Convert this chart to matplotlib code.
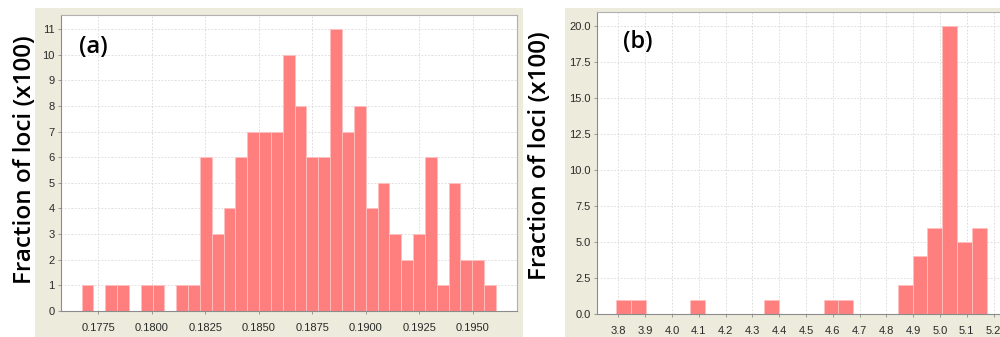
import numpy as np
import matplotlib
matplotlib.use("Agg")
import matplotlib.pyplot as plt
from matplotlib.patches import Rectangle
from matplotlib.ticker import FormatStrFormatter

# ---------------- data ----------------
# panel (a): histogram bins (left edge of first bin, bin width) and counts (x100)
a_bin_start = 0.17672
a_bin_width = 0.000553
a_counts = [1, 0, 1, 1, 0, 1, 1, 0, 1, 1, 6, 3, 4, 6, 7, 7, 7, 10, 8, 6, 6,
            11, 7, 8, 4, 5, 3, 2, 3, 6, 1, 5, 2, 2, 1]
a_xticks = [0.1775, 0.1800, 0.1825, 0.1850, 0.1875, 0.1900, 0.1925, 0.1950]
a_yticks = list(range(0, 12))

# panel (b)
b_bin_start = 3.7914
b_bin_width = 0.05533
b_counts = [1, 1, 0, 0, 0, 1, 0, 0, 0, 0, 1, 0, 0, 0, 1, 1, 0, 0, 0, 2, 4, 6,
            20, 5, 6]
b_xticks = [3.8, 3.9, 4.0, 4.1, 4.2, 4.3, 4.4, 4.5, 4.6, 4.7, 4.8, 4.9, 5.0,
            5.1, 5.2]
b_yticks = [0.0, 2.5, 5.0, 7.5, 10.0, 12.5, 15.0, 17.5, 20.0]

ylabel_text = "Fraction of loci (x100)"
panel_labels = ["(a)", "(b)"]

# ---------------- style ----------------
W, H = 1000, 337
fig = plt.figure(figsize=(W / 100, H / 100), dpi=100)
fig.patch.set_facecolor("white")

BEIGE = "#ECEBDC"
BAR = "#FF7F7F"
BAR_EDGE = "#FFC0C0"
GRID = "#D8D8D8"
SPINE = "#8C8C8C"
TICKTXT = "#2A2A2A"
tick_family = ["Liberation Sans", "DejaVu Sans"]
tick_size = 8
label_font = ["Open Sans", "DejaVu Sans"]


def px_rect(x0, y0, x1, y1):
    """convert pixel box (top-left origin) to figure fraction [l, b, w, h]"""
    return [x0 / W, (H - y1) / H, (x1 - x0) / W, (y1 - y0) / H]


# beige chart backgrounds
for (x0, y0, x1, y1) in [(35, 8, 523, 337), (565, 8, 1000, 337)]:
    l, b, w, h = px_rect(x0, y0, x1, y1)
    fig.patches.append(Rectangle((l, b), w, h, transform=fig.transFigure,
                                 facecolor=BEIGE, edgecolor="none", zorder=-5))


def style_axes(ax):
    ax.set_facecolor("white")
    for s in ax.spines.values():
        s.set_color("#B0B0B0")
        s.set_linewidth(0.8)
    ax.spines["left"].set_color(SPINE)
    ax.spines["bottom"].set_color(SPINE)
    ax.grid(True, color=GRID, linestyle=(0, (2, 2)), linewidth=0.6)
    ax.set_axisbelow(True)
    ax.tick_params(axis="both", length=2.5, width=0.6, color=SPINE,
                   labelcolor=TICKTXT, labelsize=tick_size)
    ax.tick_params(axis="x", pad=6)
    ax.tick_params(axis="y", pad=2)
    for lab in ax.get_xticklabels() + ax.get_yticklabels():
        lab.set_family(tick_family)


# ---------------- panel (a) ----------------
axa = fig.add_axes(px_rect(61, 15, 517, 311))
a_edges = a_bin_start + a_bin_width * np.arange(len(a_counts))
axa.bar(a_edges, a_counts, width=a_bin_width, align="edge", color=BAR,
        edgecolor=BAR_EDGE, linewidth=0.6, zorder=2)
axa.set_xlim(0.17576, 0.19706)
axa.set_ylim(0, 11.55)
axa.set_xticks(a_xticks)
axa.set_xticklabels([f"{v:.4f}" for v in a_xticks])
axa.set_yticks(a_yticks)
style_axes(axa)

# ---------------- panel (b) ----------------
axb = fig.add_axes(px_rect(597, 12, 1012, 314))
b_edges = b_bin_start + b_bin_width * np.arange(len(b_counts))
axb.bar(b_edges, b_counts, width=b_bin_width, align="edge", color=BAR,
        edgecolor=BAR_EDGE, linewidth=0.6, zorder=2)
axb.set_xlim(3.72, 3.8 + (1012 - 618.3) / 268.0)
axb.set_ylim(0, 20.95)
axb.set_xticks(b_xticks)
axb.set_xticklabels([f"{v:.1f}" for v in b_xticks])
axb.set_yticks(b_yticks)
axb.yaxis.set_major_formatter(FormatStrFormatter("%.1f"))
style_axes(axb)

# ---------------- texts ----------------
for xc, yc in [(25, 160), (540, 156)]:
    fig.text(xc / W, 1 - yc / H, ylabel_text, rotation=90, ha="center",
             va="center", fontsize=17.5, fontweight="semibold",
             family=label_font, color="black")

for (xc, yc), lab in zip([(93, 47), (638, 42)], panel_labels):
    fig.text(xc / W, 1 - yc / H, lab, ha="center", va="center", fontsize=17,
             fontweight="semibold", family=label_font, color="black")

fig.savefig("out.png", dpi=100, facecolor="white")
